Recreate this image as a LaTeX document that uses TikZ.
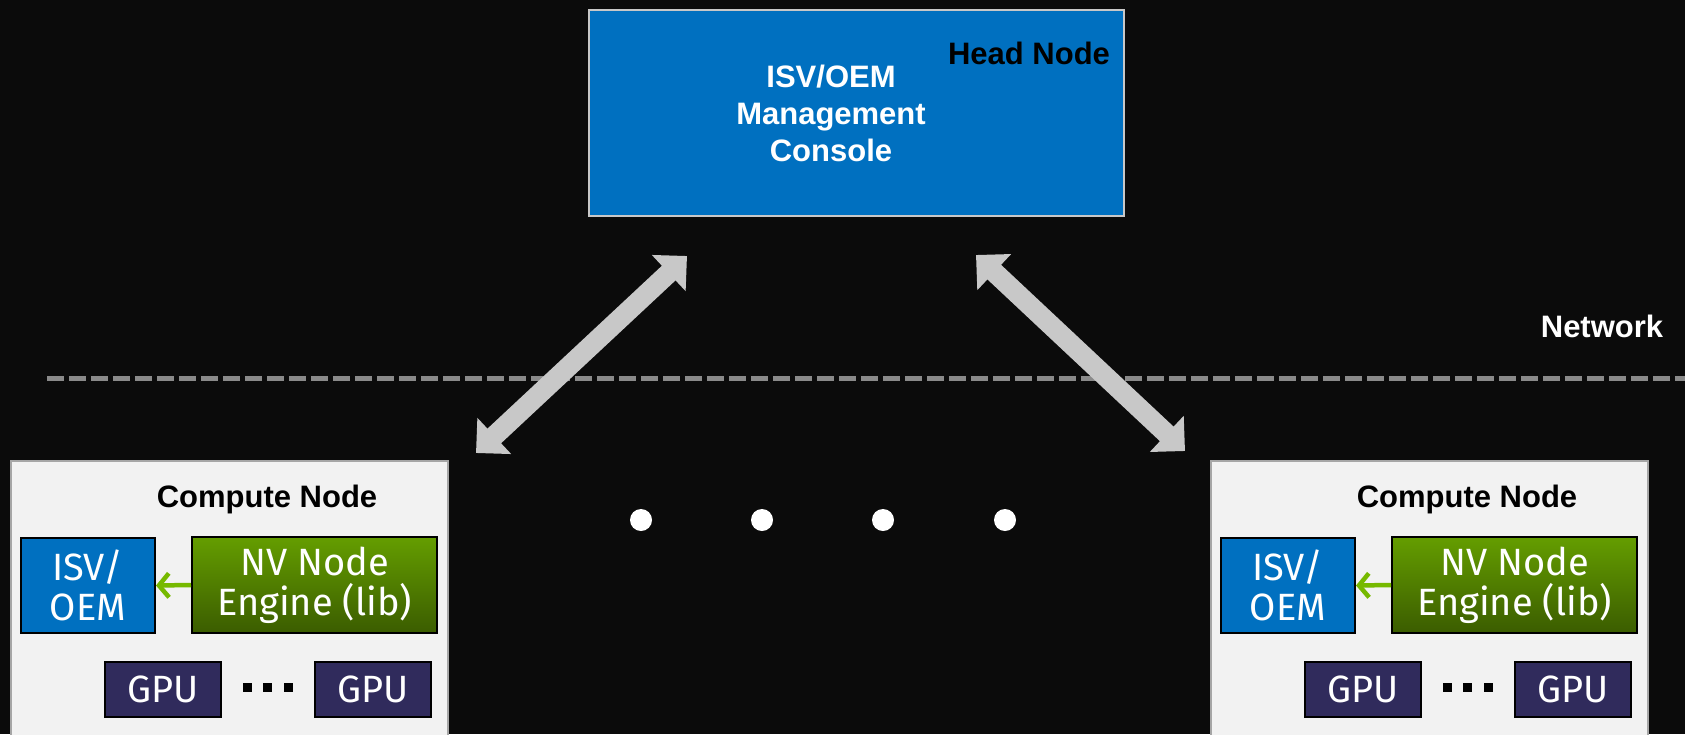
\documentclass[tikz,border=0pt]{standalone}
\usepackage{fontspec}
\setmainfont{Liberation Sans}
\newfontfamily\firafont{Fira Sans}
\usetikzlibrary{arrows.meta}

\definecolor{bgblack}{HTML}{0B0B0B}
\definecolor{isvblue}{HTML}{0070C0}
\definecolor{nvgreen}{HTML}{76B900}
\definecolor{gputone}{HTML}{302B5C}
\definecolor{netgray}{HTML}{8A8A8A}
\definecolor{arrowgray}{HTML}{C8C8C8}
\definecolor{panelgray}{HTML}{F2F2F2}

\begin{document}
\begin{tikzpicture}[x=1pt, y=-1pt,
    label/.style={font=\bfseries\fontsize{31}{37}\selectfont, align=center, inner sep=0pt},
    inbox/.style={draw=black, line width=2pt, inner sep=0pt, text=white, align=center,
        font=\firafont\fontsize{38}{40}\selectfont},
    bigarrow/.style={line width=20pt, arrowgray,
        {Triangle[width=48pt,length=25pt]}-{Triangle[width=48pt,length=25pt]}},
    smallarrow/.style={line width=4.5pt, nvgreen, -{Straight Barb[length=10pt,width=24pt]}}]

    \useasboundingbox (0,0) rectangle (1685,734);
    \fill[bgblack] (0,0) rectangle (1685,734);

    % head node
    \node[draw=arrowgray, line width=2pt, fill=isvblue, minimum width=535pt, minimum height=206pt] (head) at (856.5,113) {};
    \node[label, text=white] (console) at (831,113) {ISV/OEM\\Management\\Console};
    \node[label, text=black] (headlbl) at (1029,53) {Head Node};

    % network
    \draw[netgray, line width=5pt, dash pattern=on 17pt off 5pt] (47,378) -- (1685,378);
    \node[label, text=white] (net) at (1602,326) {Network};

    % compute nodes
    \foreach \o/\n in {0/l, 1200/r} {
        \node[draw=gray!70, line width=2pt, fill=panelgray, minimum width=437pt, minimum height=300pt] (comp\n) at ({229.5+\o},611) {};
        \node[label, text=black] (complbl\n) at ({267+\o},499) {Compute Node};
        \node[inbox, fill=isvblue, minimum width=134pt, minimum height=95pt] (isv\n) at ({88+\o},585.5) {ISV/\\OEM};
        \node[inbox, top color=nvgreen!85!black, bottom color=nvgreen!50!black, minimum width=245pt, minimum height=96pt] (nv\n) at ({314.5+\o},585) {NV Node\\Engine (lib)};
        \node[inbox, fill=gputone, minimum width=116pt, minimum height=55pt] (gpua\n) at ({163+\o},689.5) {GPU};
        \node[inbox, fill=gputone, minimum width=116pt, minimum height=55pt] (gpub\n) at ({373+\o},689.5) {GPU};
        \draw[smallarrow] (nv\n.west) -- (isv\n.east);
        \foreach \x in {247,267.5,288}
            \fill[black] ({\x+\o-4.5},682.5) rectangle ++(9,9);
    }

    % links
    \coordinate (headl) at (687,256);
    \coordinate (headr) at (976,255);
    \coordinate (compl) at (476,453);
    \coordinate (compr) at (1185,451);
    \draw[bigarrow] (compl) -- (headl);
    \draw[bigarrow] (headr) -- (compr);

    \foreach \x in {641,762,883,1005}
        \fill[white] (\x,520) circle[radius=11pt];
\end{tikzpicture}
\end{document}
